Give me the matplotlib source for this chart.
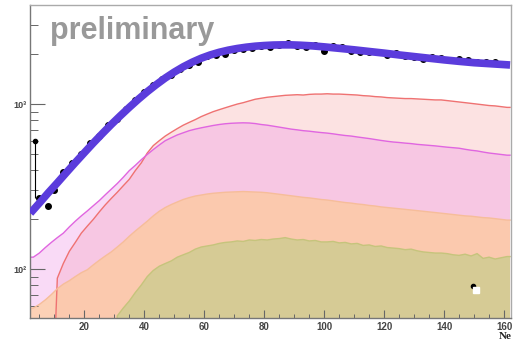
import matplotlib.pyplot as plt
import numpy as np

# Histograms, bins of width 2 starting at Ne = 2
red_vals = [10, 10, 10, 10,
            88, 108, 128, 145, 165,
            182, 200, 222, 245, 268,
            292, 320, 350, 395, 440,
            505, 560, 600, 640, 675,
            710, 745, 775, 805, 840,
            870, 900, 925, 950, 975,
            1000, 1020, 1045, 1070, 1085,
            1100, 1110, 1120, 1130, 1135,
            1140, 1135, 1145, 1150, 1150,
            1155, 1150, 1150, 1145, 1140,
            1135, 1125, 1120, 1110, 1105,
            1095, 1090, 1085, 1080, 1080,
            1075, 1070, 1065, 1060, 1060,
            1050, 1040, 1030, 1020, 1010,
            1000, 990, 980, 975, 965,
            955]
magenta_vals = [118, 125, 135, 145, 155, 165, 180, 195, 210,
                225, 242, 260, 282, 305, 330, 360, 395, 425, 460,
                495, 530, 565, 600, 625, 650, 670, 690, 705, 718,
                730, 742, 752, 760, 765, 768, 770, 768, 762, 752,
                745, 735, 725, 715, 705, 698, 690, 685, 678, 672,
                667, 660, 652, 645, 640, 632, 625, 618, 610, 602,
                595, 589, 585, 580, 576, 570, 566, 562, 558, 553,
                548, 544, 540, 532, 525, 520, 512, 505, 500, 495,
                490]
orange_vals = [58, 61, 65, 70, 76, 81, 85, 90, 95,
               99, 106, 113, 120, 127, 136, 146, 158, 170, 182,
               195, 210, 224, 236, 246, 255, 264, 271, 277, 281,
               285, 288, 290, 292, 293, 294, 295, 294, 293, 292,
               290, 287, 284, 281, 278, 275, 272, 270, 267, 264,
               262, 259, 256, 253, 251, 248, 246, 243, 241, 238,
               236, 234, 232, 230, 228, 226, 224, 222, 220, 218,
               216, 214, 212, 210, 209, 207, 205, 204, 202, 200,
               198]
olive_vals = [1, 1, 1, 1, 1, 1, 1, 1, 1, 1, 1, 1, 1, 1,
              52, 58, 64, 72, 80,
              90, 98, 104, 108, 112, 118, 122, 126, 132, 136,
              138, 140, 143, 145, 146, 148, 147, 150, 149, 151,
              150, 152, 153, 155, 152, 150, 151, 148, 149, 146,
              146, 147, 144, 145, 142, 143, 139, 140, 137, 138,
              135, 134, 133, 131, 132, 129, 127, 126, 125, 125,
              124, 122, 121, 123, 120, 124, 116, 118, 115, 117,
              119]

# fit curve
fit_x = [2, 5, 8, 11, 14, 17, 20, 23, 26, 29, 32, 35, 38, 41, 44, 47, 50,
         53, 56, 59, 62, 65, 68, 71, 74, 77, 80, 83, 86, 89, 92, 96, 100,
         105, 110, 115, 120, 125, 130, 135, 140, 145, 150, 156, 162]
fit_y = [218, 251, 290, 333, 384, 442, 507, 581, 662, 752, 849, 955, 1069,
         1189, 1312, 1439, 1563, 1683, 1795, 1897, 1986, 2061, 2123, 2173,
         2213, 2244, 2265, 2280, 2286, 2286, 2275, 2254, 2223, 2178, 2133,
         2084, 2037, 1986, 1941, 1897, 1854, 1816, 1782, 1754, 1726]

# data points
data_x = [5, 8, 10, 13, 16, 19, 22, 25, 28, 31, 34, 37, 40, 43, 46, 49, 52,
          55, 58, 61, 64, 67, 70, 73, 76, 79, 82, 85, 88, 91, 94, 97, 100,
          103, 106, 109, 112, 115, 118, 121, 124, 127, 130, 133, 136, 139,
          142, 145, 148, 151, 154, 157, 160]
data_y = [270, 240, 300, 385, 440, 500, 580, 640, 745, 810, 930, 1060, 1180,
          1300, 1420, 1500, 1640, 1720, 1800, 1950, 1990, 2010, 2140, 2170,
          2190, 2250, 2230, 2290, 2350, 2260, 2230, 2280, 2110, 2250, 2230,
          2110, 2080, 2060, 2060, 1990, 2030, 1960, 1920, 1880, 1930, 1900,
          1850, 1870, 1860, 1810, 1790, 1790, 1760]

fig = plt.figure(figsize=(5.23, 3.43), dpi=100)
ax = fig.add_axes([0.058, 0.073, 0.919, 0.912])
ax.set_yscale('log')


def curve_for(vals):
    # bin centres, padded out to the outer bin edges
    n = len(vals)
    x = np.concatenate([[2], 3 + 2 * np.arange(n), [2 + 2 * n]])
    y = np.concatenate([[vals[0]], vals, [vals[-1]]])
    return x, y


series = [
    (red_vals, (0.98, 0.78, 0.78), 0.5, '#ef7272'),
    (magenta_vals, (0.94, 0.59, 0.90), 0.35, '#e066e0'),
    (orange_vals, (1.0, 0.80, 0.55), 0.6, '#f6bd9a'),
    (olive_vals, (0.78, 0.80, 0.545), 0.7, '#c6c47c'),
]
for vals, fc, a, lc in series:
    x, y = curve_for(vals)
    ax.fill_between(x, y, 1, color=fc, alpha=a, lw=0)
    ax.plot(x, y, color=lc, lw=1)

ax.plot(data_x, data_y, 'o', color='black', ms=4, zorder=3)
ax.plot(fit_x, fit_y, color='#5b3cdc', lw=5.5, solid_capstyle='butt',
        solid_joinstyle='round', zorder=4)
# first bin with its error bar
ax.errorbar([3.5], [600], yerr=[[330], [0]], fmt='o', color='black', ms=3,
            lw=0.8, zorder=5)
ax.plot([149.5], [79], 'o', color='black', ms=3, zorder=5)
ax.plot([150.8], [75], 's', color='white', ms=4, zorder=5)

ax.set_xlim(2, 162.3)
ax.set_ylim(50.5, 3980)

ax.set_xticks([20, 40, 60, 80, 100, 120, 140, 160])
ax.set_xticks(np.arange(5, 162, 5), minor=True)
ax.set_yticks([100, 1000], labels=['10²', '10³'])
for lab in ax.get_xticklabels() + ax.get_yticklabels():
    lab.set_fontfamily('Liberation Sans')
    lab.set_fontweight('bold')
    lab.set_color('#444444')
for lab in ax.get_xticklabels():
    lab.set_fontsize(7)
for lab in ax.get_yticklabels():
    lab.set_fontsize(6.5)

ax.tick_params(axis='x', which='major', direction='in', length=6, width=0.8,
               color='#666666', pad=3)
ax.tick_params(axis='x', which='minor', direction='in', length=3, width=0.7,
               color='#666666')
ax.tick_params(axis='y', which='major', direction='in', length=11, width=0.8,
               color='#666666', pad=3)
ax.tick_params(axis='y', which='minor', direction='in', length=6, width=0.7,
               color='#666666', labelleft=False)

for s in ['left', 'bottom']:
    ax.spines[s].set_color('#777777')
    ax.spines[s].set_linewidth(1.0)
for s in ['top', 'right']:
    ax.spines[s].set_color('#aaaaaa')
    ax.spines[s].set_linewidth(1.0)

ax.text(0.04, 0.965, 'preliminary', transform=ax.transAxes, ha='left',
        va='top', fontsize=22, fontweight='bold', color='#999999',
        family='Liberation Sans')
fig.text(0.966, 0.005, 'Ne', ha='center', va='bottom', fontsize=8,
         fontweight='bold', family='Liberation Serif', color='#222222')

fig.savefig('out.png', dpi=100)
